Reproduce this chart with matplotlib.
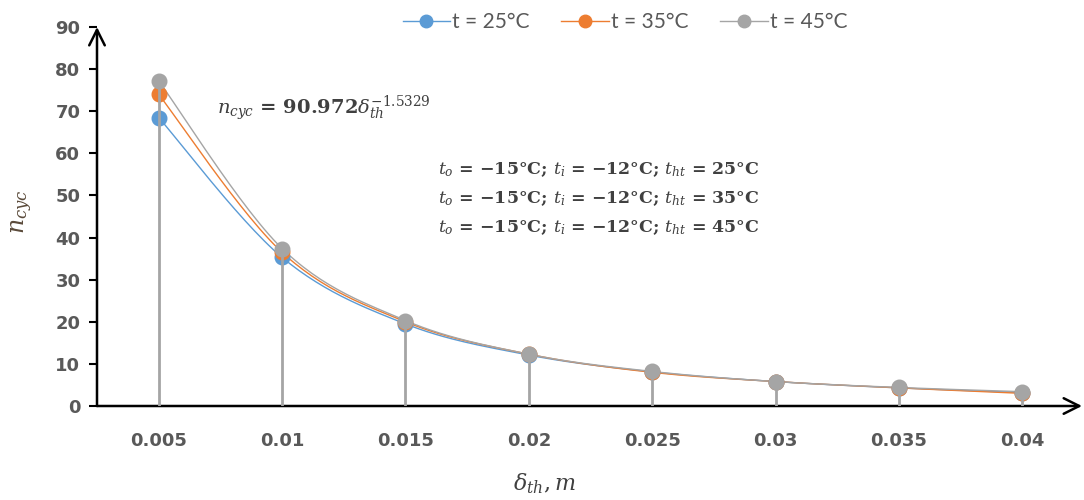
import numpy as np
import matplotlib
matplotlib.use("Agg")
import matplotlib.pyplot as plt
from matplotlib.lines import Line2D

categories = ["0.005", "0.01", "0.015", "0.02", "0.025", "0.03", "0.035", "0.04"]
n_25 = [68.5, 35.3, 19.5, 12.1, 8.1, 5.8, 4.3, 3.2]
n_35 = [74.0, 36.5, 20.0, 12.3, 8.0, 5.8, 4.3, 3.0]
n_45 = [77.2, 37.4, 20.3, 12.3, 8.2, 5.8, 4.4, 3.4]
series_labels = ["t = 25°C", "t = 35°C", "t = 45°C"]
colors = ["#5B9BD5", "#ED7D31", "#A5A5A5"]

def smooth(x, y, n=30):
    x = np.asarray(x, float); y = np.asarray(y, float)
    px = np.concatenate([[x[0]], x, [x[-1]]])
    py = np.concatenate([[y[0]], y, [y[-1]]])
    xs, ys = [], []
    t = np.linspace(0, 1, n)
    for i in range(1, len(px) - 2):
        p0 = np.array([px[i], py[i]]); p3 = np.array([px[i + 1], py[i + 1]])
        c1 = p0 + (np.array([px[i + 1], py[i + 1]]) - np.array([px[i - 1], py[i - 1]])) / 6
        c2 = p3 - (np.array([px[i + 2], py[i + 2]]) - np.array([px[i], py[i]])) / 6
        b = ((1 - t) ** 3)[:, None] * p0 + (3 * (1 - t) ** 2 * t)[:, None] * c1 \
            + (3 * (1 - t) * t ** 2)[:, None] * c2 + (t ** 3)[:, None] * p3
        xs.append(b[:, 0]); ys.append(b[:, 1])
    return np.concatenate(xs), np.concatenate(ys)

fig = plt.figure(figsize=(10.84, 5.0), dpi=100)
ax = fig.add_axes([97 / 1084, 94 / 500, (1084 - 97) / 1084, (406 - 27) / 500])
x = np.arange(1, len(categories) + 1)

all_series = [n_25, n_35, n_45]
tops = np.max(np.array(all_series), axis=0)
ax.vlines(x, 0, tops, color="#A5A5A5", lw=2.0, zorder=4)

for i, (vals, c, lab) in enumerate(zip(all_series, colors, series_labels)):
    sx, sy = smooth(x, vals)
    ax.plot(sx, sy, color=c, lw=1.0, zorder=2)
    ax.plot(x, vals, ls="none", marker="o", ms=10.5, color=c, zorder=3 if i < 2 else 5)

ax.set_xlim(0.5, 8.5)
ax.set_ylim(0, 90)
for s in ax.spines.values():
    s.set_visible(False)
ax.set_xticks(x)
ax.set_xticklabels(categories)
ax.tick_params(axis="x", length=0, pad=19)
ax.set_yticks(np.arange(0, 91, 10))
ax.tick_params(axis="y", length=6, width=1.5, color="black", direction="out", pad=6)
for lbl in ax.get_yticklabels() + ax.get_xticklabels():
    lbl.set_fontsize(13); lbl.set_fontweight("bold"); lbl.set_color("#595959"); lbl.set_family("DejaVu Sans")

# axis arrows
ax.annotate("", xy=(0, 1.0), xytext=(0, 0), xycoords="axes fraction",
            arrowprops=dict(arrowstyle="->", lw=1.8, color="black", mutation_scale=28,
                            shrinkA=0, shrinkB=0), annotation_clip=False)
ax.annotate("", xy=(0.998, 0), xytext=(0, 0), xycoords="axes fraction",
            arrowprops=dict(arrowstyle="->", lw=1.8, color="black", mutation_scale=28,
                            shrinkA=0, shrinkB=0), annotation_clip=False)

# legend
handles = [Line2D([0], [0], color=c, lw=1.0, marker="o", ms=9) for c in colors]
fig.legend(handles, series_labels, loc="center", bbox_to_anchor=(625 / 1084, 1 - 22 / 500),
           ncol=3, frameon=False, prop={"family": "Lato", "size": 15},
           handlelength=2.3, columnspacing=1.5, handletextpad=0.1, labelcolor="#595959")

plt.rcParams["mathtext.fontset"] = "dejavuserif"
fig.text(217 / 1084, 1 - 108 / 500, r"$n_{cyc}$ = 90.972$\delta_{th}^{-1.5329}$",
         fontsize=14, fontweight="bold", family="DejaVu Serif", color="#404040", va="center")
cond = [r"$t_o$ = −15°C; $t_i$ = −12°C; $t_{ht}$ = 25°C",
        r"$t_o$ = −15°C; $t_i$ = −12°C; $t_{ht}$ = 35°C",
        r"$t_o$ = −15°C; $t_i$ = −12°C; $t_{ht}$ = 45°C"]
for k, s in enumerate(cond):
    fig.text(438 / 1084, 1 - (170 + 29 * k) / 500, s, fontsize=12.5, fontweight="bold",
             family="DejaVu Serif", color="#404040", va="center")

fig.text(22 / 1084, 1 - 212 / 500, r"$n_{cyc}$", rotation=90, fontsize=17, color="#5a4a3a",
         ha="center", va="center")
fig.text(545 / 1084, 1 - 484 / 500, r"$\delta_{th}, m$", fontsize=16, color="#404040",
         ha="center", va="center")

fig.savefig("out.png", dpi=100)
